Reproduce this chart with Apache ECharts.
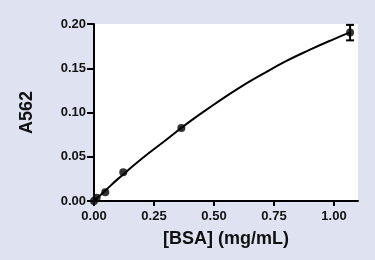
<!DOCTYPE html>
<html>
<head>
<meta charset="utf-8">
<script src="https://cdn.jsdelivr.net/npm/echarts@6/dist/echarts.min.js"></script>
<style>
html,body{margin:0;padding:0;background:#dfe3f1;}
#c{width:375px;height:260px;}
</style>
</head>
<body>
<div id="c"></div>
<script>
// Measured points: BSA concentration (mg/mL) vs A562
var concentrations = [0, 0.011, 0.047, 0.122, 0.364, 1.067];
var absorbance = [0, 0.0038, 0.0099, 0.0326, 0.0826, 0.1905];
// Error bar on last point
var errLow = [null, null, null, null, null, 0.1815];
var errHigh = [null, null, null, null, null, 0.1990];
// Fitted curve
var curveX = [0, 0.05, 0.1, 0.2, 0.3, 0.4, 0.5, 0.6, 0.7, 0.8, 0.9, 1.0, 1.067];
var curveY = [0, 0.0125, 0.025, 0.048, 0.069, 0.090, 0.109, 0.127, 0.143, 0.158, 0.171, 0.183, 0.1905];
var xTicks = [0, 0.25, 0.5, 0.75, 1.0];
var yTicks = [0, 0.05, 0.1, 0.15, 0.2];

var FONT = '"Liberation Sans", Arial, sans-serif';
var chart = echarts.init(document.getElementById('c'), null, {renderer: 'canvas'});

var scatterData = concentrations.map(function (x, i) { return [x, absorbance[i]]; });
var curveData = curveX.map(function (x, i) { return [x, curveY[i]]; });
var errData = [];
concentrations.forEach(function (x, i) {
  if (errLow[i] != null) errData.push([x, errLow[i], errHigh[i]]);
});

chart.setOption({
  backgroundColor: '#dfe3f1',
  animation: false,
  grid: {left: 94, right: 17, top: 24, bottom: 59, show: true, backgroundColor: '#ffffff', borderWidth: 0},
  xAxis: {
    type: 'value', min: 0, max: 1.1, interval: 0.25,
    name: '[BSA] (mg/mL)', nameLocation: 'middle', nameGap: 29,
    nameTextStyle: {fontFamily: FONT, fontWeight: 'bold', fontSize: 18, color: '#111'},
    axisLine: {show: true, lineStyle: {color: '#000', width: 2}},
    axisTick: {show: true, inside: false, length: 5, lineStyle: {color: '#000', width: 2},
      customValues: xTicks},
    axisLabel: {fontFamily: FONT, fontWeight: 'bold', fontSize: 13, color: '#111', margin: 9,
      customValues: xTicks,
      formatter: function (v) { return v.toFixed(2); }},
    splitLine: {show: false}
  },
  yAxis: {
    type: 'value', min: 0, max: 0.2, interval: 0.05,
    name: 'A562', nameLocation: 'middle', nameGap: 58,
    nameTextStyle: {fontFamily: FONT, fontWeight: 'bold', fontSize: 18, color: '#111'},
    axisLine: {show: true, lineStyle: {color: '#000', width: 2}},
    axisTick: {show: true, inside: false, length: 7, lineStyle: {color: '#000', width: 2},
      customValues: yTicks},
    axisLabel: {fontFamily: FONT, fontWeight: 'bold', fontSize: 13, color: '#111', margin: 8,
      customValues: yTicks,
      formatter: function (v) { return v.toFixed(2); }},
    splitLine: {show: false}
  },
  series: [
    {
      type: 'line', data: curveData, smooth: true, showSymbol: false, symbol: 'none',
      lineStyle: {color: '#000', width: 2}, clip: false, z: 2
    },
    {
      type: 'custom', data: errData, clip: false, z: 3,
      renderItem: function (params, api) {
        var x = api.value(0);
        var lo = api.coord([x, api.value(1)]);
        var hi = api.coord([x, api.value(2)]);
        var w = 4;
        var st = {stroke: '#000', lineWidth: 2};
        return {type: 'group', children: [
          {type: 'line', shape: {x1: lo[0], y1: lo[1], x2: hi[0], y2: hi[1]}, style: st},
          {type: 'line', shape: {x1: lo[0] - w, y1: lo[1], x2: lo[0] + w, y2: lo[1]}, style: st},
          {type: 'line', shape: {x1: hi[0] - w, y1: hi[1], x2: hi[0] + w, y2: hi[1]}, style: st}
        ]};
      }
    },
    {
      type: 'scatter', data: scatterData, symbol: 'circle', symbolSize: 8,
      itemStyle: {color: '#000'}, clip: false, z: 4
    }
  ]
});
</script>
</body>
</html>
